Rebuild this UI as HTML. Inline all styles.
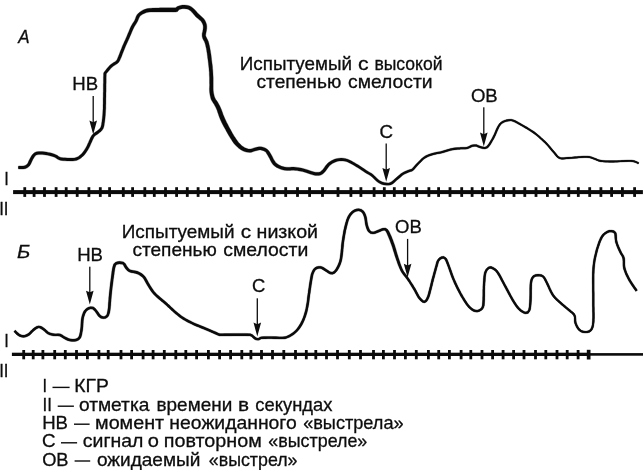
<!DOCTYPE html>
<html><head><meta charset="utf-8"><title>КГР</title>
<style>html,body{margin:0;padding:0;background:#fff;overflow:hidden}svg{display:block;filter:grayscale(1)}text{font-family:"Liberation Sans",sans-serif}</style>
</head><body>
<svg width="644" height="470" viewBox="0 0 644 470">
<rect width="644" height="470" fill="#fff"/>
<path d="M18.4,169.0 L19.6,169.0 L21.4,169.1 L23.5,169.0 L25.4,168.7 L27.8,167.6 L29.8,165.7 L30.8,164.1 L31.5,162.4 L32.3,160.7 L33.0,159.3 L34.1,157.5 L35.1,156.1 L36.3,155.1 L37.3,154.8 L38.8,154.6 L40.5,154.6 L42.2,154.6 L44.0,154.7 L45.9,155.0 L47.8,155.3 L49.5,155.7 L51.4,156.2 L53.1,156.7 L54.6,157.3 L55.9,158.1 L57.3,159.1 L59.2,160.0 L61.0,160.4 L63.0,160.7 L65.0,160.8 L67.0,160.9 L68.8,160.9 L70.7,161.0 L72.8,161.0 L74.7,160.8 L76.6,160.4 L78.6,159.6 L80.4,158.6 L82.0,157.3 L83.4,155.9 L84.6,154.7 L85.7,153.3 L86.7,151.8 L87.7,150.3 L88.7,148.6 L89.5,147.0 L90.3,145.3 L91.0,143.6 L91.8,141.9 L92.4,140.4 L93.0,139.2 L94.1,137.1 L95.2,135.8 L96.4,134.9 L97.9,134.0 L99.4,132.8 L100.8,131.7 L102.1,130.3 L103.3,128.4 L103.8,126.9 L104.2,125.3 L104.4,123.6 L104.7,121.9 L104.9,120.1 L105.1,118.6 L105.2,117.1 L105.4,115.5 L105.5,113.8 L105.6,112.0 L105.7,110.1 L105.8,108.6 L105.8,107.0 L105.8,105.4 L105.9,103.7 L105.9,102.0 L105.9,100.2 L105.9,98.5 L106.0,96.7 L106.0,95.0 L106.0,93.3 L106.1,91.5 L106.1,89.7 L106.1,87.9 L106.1,86.1 L106.1,84.4 L106.2,82.8 L106.2,81.3 L106.2,80.0 L106.2,77.5 L106.3,75.4 L106.3,74.0 L106.2,73.9 L106.4,73.7 L107.6,72.3 L109.1,70.5 L110.7,68.6 L112.0,67.3 L113.5,66.1 L115.1,65.1 L116.7,64.1 L118.2,62.9 L119.6,61.0 L120.7,58.6 L121.2,57.4 L121.8,55.9 L122.4,54.3 L123.0,52.7 L123.7,51.0 L124.4,49.3 L125.0,47.8 L125.7,46.1 L126.4,44.5 L127.2,42.8 L127.9,41.2 L128.7,39.6 L129.4,37.9 L130.1,36.2 L130.9,34.4 L131.6,32.7 L132.3,31.0 L133.0,29.4 L133.7,28.0 L134.6,26.3 L135.6,24.8 L136.5,23.3 L137.4,21.8 L138.3,19.7 L139.0,17.9 L139.8,16.5 L141.0,15.3 L142.6,14.2 L144.3,13.4 L145.5,12.9 L146.6,12.6 L148.0,12.3 L149.9,12.1 L151.3,12.0 L152.9,12.0 L154.6,12.0 L156.5,12.0 L158.4,12.0 L160.3,12.0 L162.1,12.0 L164.0,12.0 L165.9,12.0 L167.9,12.0 L169.9,12.0 L171.7,12.0 L173.3,12.1 L174.5,12.0 L175.9,12.0 L177.7,11.4 L178.6,10.3 L178.9,9.8 L180.4,9.2 L182.6,8.7 L184.3,8.7 L186.3,8.9 L188.0,9.2 L189.2,9.9 L190.4,10.8 L191.7,12.0 L192.6,13.0 L193.6,14.2 L194.7,15.5 L195.9,16.9 L197.3,18.1 L198.7,19.2 L199.9,20.2 L200.8,21.1 L201.8,22.5 L202.6,23.9 L203.0,25.2 L203.2,26.5 L203.2,27.9 L203.0,29.5 L202.7,31.4 L202.1,33.7 L202.1,36.2 L202.6,38.2 L203.4,39.9 L204.2,41.3 L204.8,42.8 L205.2,44.1 L205.6,45.5 L205.9,47.0 L206.3,48.6 L206.6,50.3 L206.8,51.8 L207.1,53.3 L207.3,54.9 L207.5,56.6 L207.7,58.3 L208.0,60.1 L208.2,61.8 L208.4,63.5 L208.6,65.3 L208.8,67.1 L209.0,68.9 L209.1,70.7 L209.3,72.5 L209.3,74.3 L209.4,76.2 L209.5,78.1 L209.5,80.0 L209.5,81.7 L209.5,83.4 L209.6,84.8 L209.5,87.2 L209.4,89.1 L209.5,91.2 L209.7,93.1 L210.0,95.1 L210.5,97.2 L211.0,99.2 L212.1,101.3 L213.2,103.0 L214.2,104.5 L215.0,106.0 L215.8,107.5 L216.7,109.5 L217.2,110.8 L217.7,112.4 L218.3,114.1 L218.9,115.9 L219.6,117.7 L220.3,119.5 L221.1,121.2 L221.9,123.0 L222.8,124.7 L223.7,126.4 L224.6,128.0 L225.5,129.6 L226.3,131.2 L227.2,132.7 L228.0,134.2 L228.9,135.7 L229.7,137.1 L230.6,138.4 L231.6,140.0 L232.5,141.4 L233.5,142.9 L234.6,144.2 L235.8,145.5 L237.4,147.1 L239.0,148.5 L240.8,149.7 L242.6,150.8 L244.4,151.5 L246.2,152.1 L248.0,152.3 L249.9,152.4 L251.7,152.2 L253.5,151.6 L255.0,151.1 L256.4,150.7 L258.1,150.3 L259.4,150.0 L260.7,150.0 L262.3,150.4 L263.9,150.9 L265.3,151.8 L266.1,152.6 L266.8,153.9 L267.7,155.3 L268.6,156.9 L269.4,158.3 L270.2,159.9 L271.0,161.6 L272.0,163.3 L273.1,164.8 L274.8,166.2 L276.5,167.4 L278.3,168.3 L280.0,169.0 L282.2,169.8 L284.3,170.2 L286.7,170.4 L288.4,170.5 L290.2,170.4 L291.9,170.3 L293.7,170.3 L295.4,170.4 L297.1,170.6 L298.8,170.9 L300.6,171.2 L302.3,171.6 L303.8,171.9 L305.5,172.4 L307.0,173.0 L308.5,173.5 L309.9,174.0 L311.7,174.6 L313.4,175.1 L315.2,175.4 L317.1,175.6 L319.0,175.5 L321.0,175.0 L322.7,174.1 L324.1,172.8 L325.3,171.4 L326.6,169.7 L327.8,167.9 L329.0,166.4 L330.0,165.3 L331.1,164.4 L332.4,163.6 L334.0,162.7 L335.8,161.9 L337.8,161.3 L339.4,161.1 L341.2,161.0 L343.0,161.0 L344.7,161.2 L346.1,161.5 L347.5,162.0 L348.9,162.7 L350.5,163.5 L351.9,164.2 L353.3,165.0 L354.9,165.9 L356.4,166.9 L357.9,167.8 L359.4,168.8 L360.9,169.8 L362.4,170.8 L363.9,171.8 L365.3,172.7 L367.0,173.7 L368.6,174.6 L370.1,175.5 L371.4,176.4 L372.6,177.5 L373.8,178.8 L375.1,180.1 L376.4,181.3 L378.1,182.6 L379.9,183.6 L381.8,184.4 L384.0,185.0 L386.4,185.3 L388.5,185.3 L390.7,185.0 L392.8,183.9 L394.0,182.9 L395.3,181.8 L396.6,180.6 L397.9,179.4 L399.4,178.2 L400.9,176.9 L402.4,175.6 L403.9,174.5 L405.5,173.7 L407.3,172.9 L409.0,172.2 L410.3,171.7 L411.7,171.4 L413.2,170.6 L414.3,169.4 L415.5,168.1 L416.8,166.5 L418.2,165.0 L419.5,163.6 L420.7,162.4 L421.9,161.2 L423.0,160.1 L424.2,159.1 L425.5,158.2 L426.8,157.4 L428.1,156.8 L429.5,156.2 L431.0,155.7 L432.6,155.2 L434.1,154.8 L435.7,154.4 L437.3,154.1 L439.1,153.8 L440.8,153.4 L442.6,153.0 L444.3,152.6 L446.0,152.0 L447.6,151.5 L449.3,151.0 L450.9,150.6 L452.4,150.2 L454.2,149.9 L456.0,149.7 L457.7,149.6 L459.4,149.5 L461.0,149.3 L463.2,149.3 L465.3,149.3 L467.3,149.0 L469.3,148.3 L471.0,147.4 L472.4,146.8 L474.4,146.4 L476.2,146.5 L478.1,147.4 L480.5,148.3 L482.5,148.8 L484.9,149.1 L487.4,148.2 L488.6,147.2 L489.5,146.0 L490.5,144.7 L491.4,143.2 L492.3,141.6 L493.2,140.0 L494.1,138.5 L494.8,137.0 L495.6,135.4 L496.3,133.7 L497.0,132.1 L497.7,130.4 L498.4,128.9 L499.1,127.6 L499.6,126.5 L501.0,124.6 L502.1,123.6 L503.5,122.8 L505.1,122.0 L506.9,121.6 L508.7,121.3 L510.2,121.1 L511.4,121.1 L513.1,121.6 L514.2,122.1 L515.6,122.8 L517.1,123.6 L518.7,124.5 L520.2,125.3 L521.6,126.1 L523.2,127.0 L524.7,127.9 L526.2,128.8 L527.6,129.6 L529.0,130.5 L530.6,131.5 L532.0,132.4 L533.4,133.4 L535.2,134.7 L536.3,135.6 L537.5,136.6 L538.8,137.7 L540.1,138.9 L541.4,140.1 L542.7,141.3 L544.0,142.4 L545.1,143.6 L546.3,144.8 L547.5,146.1 L548.6,147.4 L549.6,148.7 L550.7,150.0 L551.7,151.2 L552.7,152.3 L554.0,153.8 L555.1,155.3 L556.3,156.7 L557.7,157.9 L559.2,158.8 L560.9,159.3 L562.5,159.4 L564.1,159.3 L566.1,159.1 L568.5,158.9 L569.8,158.8 L571.4,158.7 L573.1,158.6 L575.0,158.4 L576.9,158.2 L578.8,158.1 L580.7,157.9 L582.5,157.8 L584.2,157.7 L585.7,157.7 L586.9,157.7 L589.4,157.9 L591.1,158.4 L592.6,159.0 L594.2,159.6 L595.7,160.2 L597.1,160.8 L598.7,161.4 L600.9,161.9 L602.4,162.0 L604.0,162.2 L605.7,162.3 L607.6,162.3 L609.5,162.4 L611.6,162.4 L613.7,162.4 L615.2,162.3 L616.8,162.3 L618.5,162.2 L620.3,162.1 L622.1,162.0 L623.9,161.9 L625.6,161.8 L627.3,161.7 L628.9,161.7 L630.2,161.7 L631.4,161.8 L633.9,162.2 L635.8,162.8 L637.2,163.6 L638.2,164.1 L639.0,162.5 L637.9,162.0 L636.4,161.3 L634.3,160.5 L631.6,160.0 L630.3,160.0 L628.8,160.0 L627.3,160.0 L625.6,160.1 L623.8,160.2 L622.0,160.3 L620.2,160.4 L618.4,160.5 L616.7,160.6 L615.1,160.6 L613.7,160.6 L611.6,160.6 L609.5,160.6 L607.6,160.6 L605.8,160.5 L604.1,160.4 L602.5,160.3 L601.1,160.1 L599.2,159.7 L597.8,159.2 L596.4,158.6 L594.8,158.0 L593.3,157.4 L591.7,156.7 L589.7,156.2 L587.1,155.9 L585.7,155.9 L584.1,155.9 L582.4,156.0 L580.6,156.2 L578.7,156.3 L576.7,156.5 L574.8,156.6 L573.0,156.8 L571.3,156.9 L569.7,157.0 L568.3,157.1 L565.9,157.3 L564.0,157.5 L562.5,157.6 L561.2,157.5 L560.0,157.2 L558.8,156.5 L557.7,155.4 L556.6,154.1 L555.4,152.6 L554.1,151.1 L553.1,150.0 L552.1,148.8 L551.1,147.5 L550.0,146.2 L548.9,144.9 L547.7,143.6 L546.5,142.2 L545.3,141.1 L544.0,139.9 L542.7,138.7 L541.3,137.5 L540.0,136.3 L538.7,135.2 L537.5,134.2 L536.4,133.3 L534.6,131.8 L533.0,130.8 L531.6,129.9 L530.0,128.9 L528.6,128.0 L527.2,127.1 L525.7,126.3 L524.2,125.4 L522.6,124.5 L521.2,123.7 L519.6,122.8 L518.1,121.9 L516.5,121.1 L515.0,120.3 L513.7,119.8 L511.7,119.2 L510.1,119.2 L508.5,119.3 L506.5,119.6 L504.5,120.2 L502.5,121.0 L501.0,122.0 L499.5,123.3 L498.0,125.5 L497.3,126.7 L496.6,128.1 L495.9,129.6 L495.2,131.3 L494.5,133.0 L493.8,134.6 L493.0,136.1 L492.3,137.5 L491.5,139.1 L490.6,140.6 L489.7,142.1 L488.8,143.5 L487.9,144.8 L487.0,145.8 L486.4,146.4 L484.7,147.0 L482.9,146.7 L481.1,146.3 L478.9,145.4 L476.6,144.5 L474.2,144.4 L471.8,144.8 L470.1,145.5 L468.5,146.4 L466.9,147.0 L465.2,147.2 L463.2,147.2 L460.8,147.3 L459.3,147.4 L457.6,147.5 L455.8,147.6 L453.9,147.8 L452.0,148.2 L450.4,148.5 L448.7,149.0 L447.0,149.5 L445.3,150.0 L443.7,150.5 L442.0,151.0 L440.4,151.4 L438.7,151.7 L436.9,152.1 L435.2,152.4 L433.6,152.8 L432.0,153.2 L430.3,153.7 L428.7,154.3 L427.2,154.9 L425.8,155.6 L424.3,156.4 L422.9,157.4 L421.6,158.5 L420.4,159.7 L419.2,160.9 L417.9,162.2 L416.6,163.6 L415.2,165.1 L413.9,166.6 L412.7,168.0 L411.8,168.8 L411.0,169.2 L409.7,169.5 L408.2,170.0 L406.4,170.7 L404.5,171.5 L402.7,172.5 L401.0,173.6 L399.3,175.0 L397.7,176.3 L396.3,177.6 L394.9,178.8 L393.6,180.0 L392.4,181.0 L391.4,181.7 L389.9,182.6 L388.3,182.9 L386.6,182.8 L384.5,182.5 L382.6,182.0 L381.0,181.3 L379.5,180.4 L378.0,179.3 L376.9,178.3 L375.7,177.0 L374.4,175.7 L373.0,174.4 L371.5,173.3 L369.9,172.4 L368.3,171.5 L366.7,170.5 L365.3,169.6 L363.9,168.6 L362.3,167.6 L360.8,166.6 L359.3,165.6 L357.8,164.6 L356.2,163.7 L354.7,162.7 L353.2,161.9 L351.7,161.1 L350.1,160.3 L348.5,159.5 L346.9,158.9 L345.1,158.4 L343.2,158.2 L341.2,158.1 L339.1,158.2 L337.2,158.5 L334.9,159.1 L332.7,160.0 L330.8,161.0 L329.3,162.0 L327.9,163.1 L326.6,164.4 L325.3,166.1 L324.0,167.9 L322.9,169.4 L321.8,170.5 L320.8,171.4 L319.8,172.0 L318.6,172.2 L317.1,172.3 L315.6,172.2 L314.1,171.9 L312.6,171.5 L310.9,171.0 L309.5,170.5 L308.1,170.0 L306.4,169.4 L304.6,168.9 L303.0,168.5 L301.2,168.1 L299.4,167.7 L297.5,167.4 L295.6,167.2 L293.7,167.1 L291.9,167.1 L290.0,167.2 L288.4,167.3 L286.9,167.2 L284.8,167.0 L283.0,166.6 L281.2,166.0 L279.7,165.3 L278.3,164.5 L276.9,163.5 L275.7,162.4 L274.9,161.3 L274.0,159.9 L273.2,158.4 L272.4,156.7 L271.6,155.3 L270.6,153.6 L269.7,152.1 L268.6,150.6 L267.3,149.2 L265.3,148.0 L263.2,147.2 L261.1,146.8 L259.1,146.7 L257.4,147.1 L255.6,147.5 L254.0,147.9 L252.5,148.4 L251.0,148.9 L249.7,149.0 L248.4,148.9 L247.1,148.6 L245.7,148.1 L244.4,147.4 L243.0,146.5 L241.6,145.4 L240.2,144.1 L238.8,142.7 L237.9,141.5 L237.0,140.3 L236.1,139.1 L235.2,137.6 L234.2,136.2 L233.4,134.8 L232.6,133.5 L231.8,132.1 L231.0,130.6 L230.2,129.1 L229.3,127.6 L228.5,126.0 L227.7,124.3 L226.8,122.7 L226.0,121.0 L225.2,119.3 L224.5,117.7 L223.8,116.1 L223.1,114.4 L222.5,112.6 L221.9,110.9 L221.3,109.3 L220.7,107.9 L219.7,105.7 L218.7,104.0 L217.8,102.3 L216.6,100.6 L215.6,99.2 L214.8,97.6 L214.3,96.2 L213.9,94.4 L213.5,92.5 L213.3,90.8 L213.2,89.1 L213.2,87.3 L213.2,84.8 L213.2,83.3 L213.2,81.7 L213.2,79.9 L213.2,78.0 L213.1,76.1 L213.0,74.1 L212.9,72.3 L212.8,70.4 L212.6,68.6 L212.5,66.7 L212.3,64.9 L212.0,63.1 L211.8,61.3 L211.6,59.7 L211.4,57.8 L211.2,56.1 L211.0,54.4 L210.7,52.8 L210.5,51.2 L210.2,49.7 L209.9,47.9 L209.6,46.3 L209.2,44.7 L208.8,43.1 L208.4,41.6 L207.6,39.7 L206.7,38.1 L206.1,36.8 L205.7,35.8 L205.8,34.1 L206.2,32.1 L206.6,30.1 L206.8,28.2 L206.8,26.3 L206.6,24.4 L205.9,22.4 L205.0,20.5 L203.8,18.7 L202.5,17.4 L201.1,16.2 L199.8,15.1 L198.7,14.1 L197.6,13.0 L196.6,11.7 L195.5,10.4 L194.3,9.2 L192.8,7.9 L191.2,6.7 L189.2,5.8 L186.9,5.2 L184.5,5.1 L182.2,5.1 L179.4,5.7 L177.1,6.6 L175.7,7.7 L175.5,8.0 L175.6,7.8 L174.5,7.8 L173.3,7.8 L171.7,7.8 L169.9,7.8 L168.0,7.8 L165.9,7.8 L164.0,7.8 L162.1,7.8 L160.3,7.8 L158.4,7.9 L156.4,7.9 L154.5,8.0 L152.7,8.1 L151.0,8.2 L149.5,8.3 L147.4,8.6 L145.7,9.0 L144.2,9.6 L142.7,10.2 L140.7,11.4 L138.9,12.8 L137.2,14.5 L136.1,16.5 L135.4,18.5 L134.6,20.4 L133.8,21.7 L132.9,23.1 L131.9,24.7 L130.9,26.6 L130.2,28.1 L129.5,29.7 L128.8,31.5 L128.0,33.2 L127.3,35.0 L126.6,36.7 L125.9,38.3 L125.2,39.9 L124.4,41.6 L123.7,43.2 L122.9,44.9 L122.2,46.6 L121.6,48.2 L120.9,49.9 L120.2,51.6 L119.6,53.3 L119.0,54.8 L118.4,56.2 L117.9,57.4 L117.1,59.5 L116.0,60.9 L115.0,61.7 L113.5,62.6 L111.8,63.7 L110.0,65.1 L108.5,66.7 L106.9,68.6 L105.4,70.5 L104.2,72.0 L103.6,72.9 L103.5,73.9 L103.5,75.4 L103.4,77.5 L103.4,80.0 L103.4,81.3 L103.4,82.8 L103.3,84.4 L103.3,86.1 L103.3,87.9 L103.3,89.7 L103.3,91.5 L103.2,93.3 L103.2,95.0 L103.2,96.7 L103.1,98.4 L103.1,100.2 L103.1,101.9 L103.1,103.7 L103.0,105.3 L103.0,107.0 L103.0,108.5 L102.9,109.9 L102.8,111.9 L102.7,113.7 L102.6,115.3 L102.4,116.8 L102.3,118.3 L102.1,119.7 L101.9,121.5 L101.6,123.2 L101.4,124.8 L101.1,126.1 L100.7,127.2 L99.9,128.5 L98.8,129.5 L97.6,130.6 L96.2,131.6 L94.7,132.6 L93.2,133.8 L91.7,135.5 L90.4,137.8 L89.8,139.2 L89.1,140.7 L88.4,142.4 L87.6,144.1 L86.9,145.8 L86.1,147.2 L85.2,148.7 L84.3,150.2 L83.3,151.6 L82.4,152.8 L81.4,153.9 L80.0,155.1 L78.7,156.2 L77.3,157.0 L75.8,157.6 L74.3,157.9 L72.6,158.0 L70.8,158.0 L68.9,158.0 L67.2,157.9 L65.1,157.8 L63.3,157.7 L61.6,157.5 L60.2,157.2 L58.8,156.5 L57.6,155.6 L56.0,154.7 L54.1,153.9 L52.2,153.3 L50.1,152.7 L48.3,152.4 L46.4,152.0 L44.3,151.7 L42.4,151.6 L40.5,151.5 L38.6,151.6 L36.6,151.8 L34.7,152.5 L32.9,154.0 L31.5,155.8 L30.4,157.7 L29.5,159.4 L28.7,161.1 L28.0,162.7 L27.4,163.7 L26.1,165.0 L24.4,165.7 L23.2,165.9 L21.4,166.0 L19.6,165.9 L18.4,166.0Z" fill="#0b0b0b" fill-rule="nonzero" stroke="#0b0b0b" stroke-width="0.3" stroke-linejoin="round"/><path d="M18.4,167.5 L19.6,167.5 L21.4,167.5 L23.3,167.4 L24.9,167.2 L27.0,166.3 L28.6,164.7 L29.4,163.4 L30.1,161.7 L30.9,160.0 L31.7,158.5 L32.8,156.7 L34.0,155.0 L35.5,153.8 L37.0,153.3 L38.7,153.1 L40.5,153.1 L42.3,153.1 L44.2,153.2 L46.1,153.5 L48.0,153.8 L49.8,154.2 L51.8,154.7 L53.6,155.3 L55.3,156.0 L56.7,156.9 L58.1,157.8 L59.7,158.6 L61.3,159.0 L63.1,159.2 L65.1,159.3 L67.1,159.4 L68.9,159.5 L70.8,159.5 L72.7,159.5 L74.5,159.3 L76.2,159.0 L78.0,158.3 L79.6,157.4 L81.0,156.2 L82.4,154.9 L83.5,153.7 L84.5,152.4 L85.5,151.0 L86.5,149.5 L87.4,147.9 L88.2,146.4 L89.0,144.7 L89.7,143.0 L90.4,141.3 L91.1,139.8 L91.7,138.5 L92.9,136.3 L94.2,134.8 L95.5,133.8 L97.1,132.8 L98.5,131.7 L99.8,130.6 L101.0,129.4 L102.0,127.8 L102.4,126.5 L102.8,125.0 L103.0,123.4 L103.3,121.7 L103.5,119.9 L103.7,118.4 L103.8,116.9 L104.0,115.4 L104.1,113.8 L104.2,112.0 L104.3,110.0 L104.4,108.6 L104.4,107.0 L104.4,105.4 L104.5,103.7 L104.5,101.9 L104.5,100.2 L104.5,98.4 L104.6,96.7 L104.6,95.0 L104.6,93.3 L104.7,91.5 L104.7,89.7 L104.7,87.9 L104.7,86.1 L104.7,84.4 L104.8,82.8 L104.8,81.3 L104.8,80.0 L104.8,77.5 L104.9,75.4 L104.9,73.9 L104.9,73.4 L105.3,72.8 L106.5,71.4 L108.0,69.6 L109.6,67.7 L111.0,66.2 L112.6,64.9 L114.3,63.8 L115.8,62.9 L117.1,61.9 L118.4,60.3 L119.3,58.0 L119.8,56.8 L120.4,55.4 L121.0,53.8 L121.6,52.1 L122.3,50.4 L123.0,48.8 L123.6,47.2 L124.3,45.5 L125.1,43.8 L125.8,42.2 L126.5,40.6 L127.3,38.9 L128.0,37.3 L128.7,35.6 L129.5,33.8 L130.2,32.1 L130.9,30.4 L131.6,28.7 L132.3,27.3 L133.3,25.5 L134.3,23.9 L135.2,22.5 L136.0,21.1 L136.8,19.1 L137.5,17.2 L138.5,15.5 L139.9,14.0 L141.7,12.8 L143.5,11.8 L144.8,11.2 L146.1,10.8 L147.7,10.5 L149.7,10.2 L151.1,10.1 L152.8,10.0 L154.6,10.0 L156.5,9.9 L158.4,9.9 L160.3,9.9 L162.1,9.9 L164.0,9.9 L165.9,9.9 L168.0,9.9 L169.9,9.9 L171.7,9.9 L173.3,9.9 L174.5,9.9 L175.8,9.9 L176.6,9.7 L177.2,9.0 L178.0,8.2 L179.9,7.4 L182.4,6.9 L184.4,6.9 L186.6,7.0 L188.6,7.5 L190.2,8.3 L191.6,9.3 L193.0,10.6 L194.1,11.7 L195.1,13.0 L196.2,14.3 L197.3,15.5 L198.6,16.6 L199.9,17.7 L201.2,18.8 L202.3,19.9 L203.4,21.5 L204.2,23.1 L204.8,24.8 L205.0,26.4 L205.0,28.0 L204.8,29.8 L204.4,31.8 L204.0,33.9 L203.9,36.0 L204.3,37.5 L205.1,39.0 L205.9,40.5 L206.6,42.2 L207.0,43.6 L207.4,45.1 L207.8,46.7 L208.1,48.3 L208.4,50.0 L208.7,51.5 L208.9,53.0 L209.1,54.7 L209.4,56.3 L209.6,58.1 L209.8,59.9 L210.0,61.6 L210.2,63.3 L210.4,65.1 L210.6,66.9 L210.8,68.8 L211.0,70.6 L211.1,72.4 L211.2,74.2 L211.3,76.1 L211.3,78.0 L211.3,79.9 L211.4,81.7 L211.4,83.4 L211.4,84.8 L211.4,87.3 L211.3,89.1 L211.4,91.0 L211.6,92.8 L212.0,94.8 L212.4,96.7 L212.9,98.4 L213.8,100.2 L214.9,101.8 L216.0,103.4 L216.9,105.0 L217.7,106.6 L218.7,108.7 L219.2,110.1 L219.8,111.7 L220.4,113.4 L221.0,115.1 L221.7,116.9 L222.4,118.6 L223.2,120.3 L224.0,122.0 L224.8,123.7 L225.7,125.4 L226.6,127.0 L227.4,128.6 L228.2,130.1 L229.1,131.7 L229.9,133.2 L230.7,134.6 L231.6,136.0 L232.4,137.3 L233.4,138.8 L234.3,140.2 L235.3,141.6 L236.2,142.9 L237.3,144.1 L238.8,145.6 L240.3,146.9 L241.9,148.1 L243.5,149.1 L245.1,149.8 L246.7,150.3 L248.2,150.6 L249.8,150.7 L251.4,150.5 L253.0,150.0 L254.5,149.5 L256.0,149.1 L257.7,148.7 L259.3,148.4 L260.9,148.4 L262.7,148.8 L264.6,149.4 L266.3,150.5 L267.4,151.6 L268.3,153.0 L269.2,154.5 L270.1,156.1 L270.9,157.5 L271.7,159.1 L272.5,160.8 L273.4,162.3 L274.4,163.6 L275.8,164.9 L277.4,165.9 L279.0,166.8 L280.6,167.5 L282.6,168.2 L284.5,168.6 L286.8,168.8 L288.4,168.9 L290.1,168.8 L291.9,168.7 L293.7,168.7 L295.5,168.8 L297.3,169.0 L299.1,169.3 L300.9,169.6 L302.6,170.0 L304.2,170.4 L306.0,170.9 L307.5,171.5 L309.0,172.0 L310.4,172.5 L312.2,173.1 L313.8,173.5 L315.4,173.8 L317.1,173.9 L318.8,173.9 L320.4,173.5 L321.7,172.7 L322.9,171.7 L324.1,170.4 L325.3,168.8 L326.6,167.0 L327.8,165.4 L329.0,164.2 L330.2,163.2 L331.6,162.3 L333.4,161.4 L335.3,160.5 L337.5,159.9 L339.3,159.7 L341.2,159.5 L343.1,159.6 L344.9,159.8 L346.5,160.2 L348.0,160.8 L349.5,161.5 L351.1,162.3 L352.5,163.1 L354.0,163.9 L355.5,164.8 L357.1,165.8 L358.6,166.7 L360.1,167.7 L361.6,168.7 L363.1,169.7 L364.6,170.7 L366.0,171.6 L367.7,172.6 L369.2,173.5 L370.8,174.4 L372.2,175.4 L373.5,176.6 L374.8,177.9 L376.0,179.2 L377.2,180.3 L378.8,181.5 L380.4,182.5 L382.2,183.2 L384.3,183.7 L386.5,184.0 L388.4,184.1 L390.3,183.8 L392.1,182.8 L393.2,182.0 L394.4,180.9 L395.7,179.7 L397.1,178.5 L398.6,177.2 L400.1,175.9 L401.7,174.6 L403.3,173.5 L405.0,172.6 L406.9,171.8 L408.6,171.1 L410.0,170.6 L411.3,170.3 L412.5,169.7 L413.5,168.7 L414.7,167.3 L416.0,165.8 L417.4,164.3 L418.7,162.9 L419.9,161.7 L421.1,160.5 L422.3,159.3 L423.6,158.2 L424.9,157.3 L426.3,156.5 L427.6,155.8 L429.1,155.3 L430.6,154.7 L432.3,154.2 L433.8,153.8 L435.4,153.4 L437.1,153.1 L438.9,152.7 L440.6,152.4 L442.3,152.0 L444.0,151.5 L445.7,151.0 L447.3,150.5 L449.0,150.0 L450.6,149.6 L452.2,149.2 L454.1,148.9 L455.9,148.7 L457.7,148.5 L459.3,148.4 L460.9,148.3 L463.2,148.2 L465.2,148.2 L467.1,148.0 L468.9,147.3 L470.5,146.5 L472.1,145.8 L474.3,145.4 L476.4,145.5 L478.5,146.4 L480.8,147.3 L482.7,147.8 L484.8,148.1 L486.9,147.3 L487.8,146.5 L488.7,145.4 L489.6,144.1 L490.5,142.7 L491.4,141.1 L492.3,139.6 L493.2,138.0 L493.9,136.6 L494.7,135.0 L495.4,133.4 L496.1,131.7 L496.8,130.0 L497.5,128.5 L498.2,127.1 L498.8,126.0 L500.2,124.0 L501.5,122.8 L503.0,121.9 L504.8,121.1 L506.7,120.6 L508.6,120.3 L510.1,120.1 L511.5,120.2 L513.4,120.7 L514.6,121.2 L516.1,121.9 L517.6,122.8 L519.2,123.6 L520.7,124.5 L522.1,125.3 L523.7,126.2 L525.2,127.1 L526.7,128.0 L528.1,128.8 L529.5,129.7 L531.1,130.7 L532.5,131.6 L534.0,132.6 L535.8,134.0 L536.9,134.9 L538.1,135.9 L539.4,137.0 L540.7,138.2 L542.1,139.4 L543.4,140.6 L544.6,141.8 L545.8,142.9 L547.0,144.2 L548.2,145.5 L549.3,146.8 L550.4,148.1 L551.4,149.4 L552.4,150.6 L553.4,151.7 L554.7,153.2 L555.9,154.7 L557.0,156.1 L558.2,157.2 L559.6,158.0 L561.0,158.4 L562.5,158.5 L564.0,158.4 L566.0,158.2 L568.4,158.0 L569.8,157.9 L571.3,157.8 L573.1,157.7 L574.9,157.5 L576.8,157.4 L578.7,157.2 L580.6,157.1 L582.5,156.9 L584.2,156.8 L585.7,156.8 L587.0,156.8 L589.6,157.1 L591.4,157.6 L592.9,158.2 L594.5,158.8 L596.0,159.4 L597.4,160.0 L599.0,160.6 L601.0,161.0 L602.4,161.2 L604.0,161.3 L605.7,161.4 L607.6,161.5 L609.5,161.5 L611.6,161.5 L613.7,161.5 L615.2,161.5 L616.8,161.4 L618.5,161.3 L620.2,161.2 L622.0,161.1 L623.8,161.0 L625.6,160.9 L627.3,160.9 L628.8,160.8 L630.3,160.8 L631.5,160.9 L634.1,161.3 L636.1,162.1 L637.6,162.8 L638.6,163.3" fill="none" stroke="#0b0b0b" stroke-width="1.5" stroke-linejoin="round" stroke-linecap="butt"/><path d="M13.7,331.7 L14.8,332.8 L16.3,334.4 L18.0,335.8 L19.7,336.7 L21.5,337.3 L23.4,337.5 L25.4,337.2 L27.4,336.5 L29.4,335.4 L30.8,334.2 L32.2,332.8 L33.5,331.5 L34.7,330.4 L36.2,329.3 L37.6,328.5 L38.7,328.1 L39.8,328.3 L41.1,329.0 L42.6,329.9 L44.0,331.1 L45.5,332.6 L47.4,334.1 L49.4,335.0 L51.5,335.6 L53.7,336.0 L55.9,336.1 L57.9,336.0 L59.6,336.2 L61.0,336.9 L62.6,337.9 L64.3,339.0 L66.0,339.9 L67.7,340.7 L69.7,341.2 L71.9,341.5 L74.3,341.5 L76.4,341.2 L79.0,340.1 L80.9,337.9 L81.5,336.2 L82.0,334.5 L82.3,332.6 L82.7,330.6 L82.9,328.7 L83.1,327.0 L83.2,325.2 L83.3,323.5 L83.4,321.8 L83.5,320.2 L83.7,318.8 L84.1,316.9 L84.7,315.2 L85.2,313.7 L85.9,312.5 L86.8,311.1 L87.9,310.2 L89.0,309.6 L90.8,309.0 L92.5,309.2 L93.4,309.9 L94.5,311.1 L95.6,312.5 L96.6,314.0 L97.6,315.6 L98.9,317.1 L101.0,318.4 L103.4,318.8 L105.8,318.5 L108.0,317.0 L108.9,315.6 L109.4,314.1 L109.9,312.4 L110.3,310.1 L110.5,308.7 L110.6,307.0 L110.8,305.2 L110.9,303.3 L111.1,301.4 L111.2,299.5 L111.4,297.8 L111.5,296.1 L111.7,294.1 L111.9,292.1 L112.1,290.3 L112.3,288.5 L112.5,286.8 L112.7,285.2 L113.0,283.1 L113.2,281.3 L113.4,279.6 L113.7,277.6 L113.9,276.0 L114.2,274.2 L114.4,272.4 L114.7,270.6 L114.9,269.0 L115.2,267.7 L115.9,265.5 L116.8,264.6 L117.9,264.3 L119.6,264.1 L121.3,264.2 L122.4,264.3 L123.2,265.1 L124.0,266.5 L125.0,268.2 L126.1,269.6 L127.4,270.9 L129.2,272.1 L131.1,272.7 L133.2,273.0 L135.1,273.4 L136.8,273.9 L138.4,274.6 L139.8,275.4 L141.2,276.4 L142.5,277.6 L143.5,278.8 L144.4,280.3 L145.3,282.0 L146.3,283.8 L147.3,285.5 L148.3,287.1 L149.3,288.7 L150.3,290.2 L151.3,291.7 L152.4,293.1 L153.6,294.6 L154.9,295.8 L156.1,296.9 L157.5,298.2 L158.7,299.2 L160.0,300.2 L161.3,301.4 L162.7,302.4 L163.9,303.5 L165.0,304.4 L166.5,305.8 L167.7,306.9 L169.1,308.3 L170.2,309.3 L171.4,310.4 L172.7,311.6 L174.0,312.8 L175.4,314.0 L176.8,315.1 L178.2,316.2 L179.7,317.4 L181.3,318.5 L183.0,319.7 L184.6,320.6 L186.2,321.5 L187.9,322.4 L189.7,323.3 L191.4,324.1 L193.1,324.9 L194.8,325.7 L196.5,326.4 L198.2,327.1 L199.8,327.8 L201.5,328.4 L203.0,329.1 L204.8,329.8 L206.6,330.6 L208.4,331.3 L210.1,332.0 L211.7,332.7 L213.5,333.5 L215.5,334.4 L217.3,335.2 L218.7,335.7 L219.3,336.0 L219.9,336.0 L220.6,336.0 L221.6,336.0 L222.9,336.0 L224.5,336.0 L226.3,336.0 L228.3,336.0 L230.5,336.0 L232.8,335.9 L235.1,335.9 L237.4,335.9 L239.7,335.9 L241.9,335.9 L243.9,335.9 L245.8,335.9 L247.5,336.0 L248.9,336.0 L249.7,336.0 L251.3,336.6 L252.3,337.5 L253.6,338.7 L255.1,339.8 L257.0,340.3 L259.0,340.3 L260.3,339.6 L261.4,339.1 L262.5,339.0 L264.0,338.9 L265.8,338.9 L267.7,338.8 L269.8,338.8 L271.4,338.8 L273.3,338.9 L275.2,339.0 L277.2,339.0 L279.1,339.1 L280.9,339.1 L282.3,339.1 L284.5,339.0 L286.0,338.7 L287.6,338.1 L289.2,337.4 L290.9,336.6 L292.6,335.6 L294.1,334.5 L295.5,333.3 L296.9,332.1 L298.1,330.7 L299.4,329.2 L300.3,327.9 L301.3,326.4 L302.2,324.9 L303.1,323.3 L303.9,321.6 L304.6,319.9 L305.3,318.1 L306.0,316.3 L306.5,314.5 L307.1,312.7 L307.5,310.9 L307.9,309.1 L308.3,307.3 L308.6,305.6 L308.9,303.9 L309.2,302.0 L309.4,300.2 L309.6,298.4 L309.9,296.2 L310.1,294.6 L310.4,292.9 L310.6,291.0 L310.9,289.1 L311.2,287.2 L311.4,285.4 L311.7,283.7 L312.0,281.8 L312.3,280.0 L312.6,278.3 L312.9,276.7 L313.2,275.2 L313.5,274.0 L314.4,272.0 L315.2,270.6 L316.2,269.6 L317.5,268.9 L318.9,268.6 L320.3,268.6 L321.6,269.0 L323.1,269.9 L324.7,270.9 L326.4,272.0 L328.2,273.3 L330.1,274.2 L332.5,274.4 L334.8,273.4 L336.3,272.0 L337.7,270.2 L339.0,268.0 L339.7,266.6 L340.4,265.1 L341.0,263.4 L341.6,261.4 L342.2,258.9 L342.4,257.6 L342.6,256.1 L342.8,254.6 L343.0,252.9 L343.2,251.2 L343.3,249.4 L343.5,247.6 L343.7,245.9 L343.8,244.2 L344.0,242.6 L344.2,241.2 L344.5,239.3 L344.8,237.4 L345.1,235.6 L345.4,233.9 L345.7,232.2 L346.0,230.6 L346.4,229.1 L346.7,227.6 L347.2,225.7 L347.6,223.9 L348.1,222.2 L348.6,220.6 L349.1,219.2 L349.7,218.0 L350.6,216.3 L351.6,214.9 L352.6,213.7 L353.7,212.8 L355.3,211.8 L357.1,211.2 L358.5,211.0 L360.4,211.4 L362.0,212.7 L362.8,213.9 L363.6,215.7 L364.2,217.7 L364.5,219.4 L364.8,221.2 L365.0,223.2 L365.4,225.1 L365.9,226.9 L366.5,228.7 L367.2,230.4 L368.2,231.9 L370.3,233.6 L372.9,234.1 L375.0,233.8 L377.0,233.0 L378.9,232.3 L380.7,231.5 L382.3,230.8 L383.6,230.4 L384.7,230.4 L385.6,231.1 L386.1,231.9 L386.7,233.1 L387.4,234.7 L388.2,236.6 L388.8,238.0 L389.4,239.5 L390.1,241.2 L390.7,242.9 L391.4,244.7 L392.0,246.5 L392.5,248.1 L393.0,249.7 L393.5,251.4 L394.1,253.1 L394.6,254.9 L395.2,256.7 L395.8,258.4 L396.3,260.0 L396.9,261.6 L397.4,263.2 L398.0,264.8 L398.7,266.5 L399.3,268.0 L400.0,269.5 L400.7,271.0 L401.7,272.7 L402.8,274.3 L403.9,275.7 L405.0,277.0 L406.1,278.4 L407.2,279.9 L408.0,281.2 L409.0,282.6 L409.9,284.1 L410.8,285.5 L411.7,287.0 L412.6,288.4 L413.4,289.8 L414.3,291.3 L415.1,292.9 L416.0,294.5 L416.8,296.0 L417.6,297.5 L418.5,298.7 L420.3,300.8 L422.3,302.4 L424.5,302.9 L426.5,302.0 L428.0,300.0 L429.3,297.2 L429.7,296.0 L430.1,294.7 L430.5,293.2 L430.9,291.6 L431.4,289.8 L431.8,288.1 L432.3,286.3 L432.7,284.5 L433.1,282.7 L433.6,281.1 L433.9,279.6 L434.3,278.2 L434.9,276.1 L435.4,274.1 L435.9,272.3 L436.4,270.6 L436.8,269.0 L437.2,267.6 L437.6,266.3 L438.2,263.9 L438.6,262.4 L439.1,261.2 L440.6,259.6 L442.1,258.7 L443.3,258.5 L444.7,259.4 L445.1,260.2 L445.7,261.4 L446.3,262.9 L447.0,264.7 L447.8,266.8 L448.2,268.1 L448.7,269.4 L449.2,270.9 L449.8,272.4 L450.3,274.0 L450.9,275.7 L451.5,277.3 L452.2,279.0 L452.9,280.6 L453.5,282.1 L454.2,283.7 L455.0,285.2 L455.7,286.8 L456.5,288.4 L457.3,290.0 L458.1,291.5 L458.9,293.0 L459.7,294.5 L460.4,295.9 L461.4,297.5 L462.4,299.1 L463.3,300.7 L464.3,302.2 L465.3,303.7 L466.2,305.0 L467.2,306.2 L468.1,307.4 L469.9,309.1 L471.6,310.4 L473.3,311.4 L475.0,312.0 L477.1,312.2 L479.2,311.7 L480.9,310.8 L482.4,309.8 L483.6,308.1 L484.4,305.7 L484.5,304.4 L484.6,302.9 L484.7,301.3 L484.8,299.6 L484.8,297.8 L484.9,295.9 L484.9,293.9 L484.9,292.0 L484.9,290.2 L485.0,288.4 L485.0,286.8 L485.1,285.4 L485.2,283.1 L485.4,281.0 L485.5,279.1 L485.6,277.3 L485.8,275.7 L486.1,274.2 L486.3,273.1 L487.3,270.8 L488.4,269.5 L489.4,268.7 L490.7,268.4 L492.3,269.2 L493.3,269.8 L494.4,270.5 L495.6,271.6 L496.9,273.3 L497.6,274.4 L498.4,275.7 L499.2,277.1 L500.0,278.7 L500.9,280.4 L501.8,282.1 L502.7,283.8 L503.6,285.4 L504.4,287.0 L505.3,288.6 L506.1,290.2 L507.0,291.8 L507.8,293.4 L508.7,295.0 L509.5,296.6 L510.4,298.1 L511.2,299.5 L512.0,300.9 L513.1,302.7 L514.2,304.4 L515.2,305.9 L516.3,307.4 L517.3,308.7 L518.5,309.9 L520.2,311.4 L522.0,312.6 L523.7,313.5 L525.5,314.0 L528.3,313.4 L530.1,310.9 L530.6,309.5 L530.9,308.0 L531.1,306.4 L531.3,304.6 L531.4,302.6 L531.6,300.4 L531.6,299.0 L531.7,297.4 L531.7,295.7 L531.7,294.0 L531.7,292.2 L531.7,290.4 L531.8,288.6 L531.8,286.9 L531.9,285.4 L531.9,284.0 L532.1,282.9 L532.4,280.7 L533.0,279.2 L533.6,278.1 L534.1,277.4 L535.9,276.4 L538.0,276.3 L539.6,276.3 L541.1,276.6 L542.5,277.3 L543.2,278.2 L544.0,279.4 L544.8,281.1 L545.9,283.2 L546.5,284.4 L547.2,285.9 L547.9,287.6 L548.7,289.3 L549.5,291.0 L550.4,292.8 L551.3,294.4 L552.2,295.9 L553.4,297.4 L554.7,298.9 L556.0,300.2 L557.4,301.5 L558.7,302.7 L560.0,303.8 L561.2,304.9 L562.6,306.1 L563.9,307.2 L565.2,308.3 L566.5,309.3 L567.6,310.3 L568.7,311.2 L570.3,312.5 L571.7,313.6 L572.8,314.7 L573.6,315.8 L574.0,317.3 L574.1,319.1 L574.1,321.2 L574.5,323.3 L575.3,325.3 L576.2,327.2 L577.3,329.0 L578.6,330.6 L580.6,332.0 L582.8,332.8 L585.0,333.1 L587.2,333.0 L589.5,332.4 L591.5,330.9 L592.4,329.7 L593.1,328.3 L593.6,326.7 L594.0,324.7 L594.3,322.2 L594.4,320.9 L594.4,319.6 L594.5,318.1 L594.5,316.6 L594.5,315.0 L594.5,313.3 L594.4,311.5 L594.4,309.7 L594.4,307.8 L594.3,305.9 L594.3,304.0 L594.3,302.0 L594.3,300.0 L594.3,298.5 L594.3,296.9 L594.3,295.3 L594.3,293.6 L594.3,291.9 L594.2,290.1 L594.2,288.3 L594.2,286.5 L594.2,284.7 L594.2,282.9 L594.2,281.1 L594.2,279.4 L594.2,277.7 L594.2,276.0 L594.2,274.4 L594.3,272.9 L594.4,271.4 L594.4,270.1 L594.6,268.0 L594.8,266.1 L595.0,264.3 L595.2,262.7 L595.4,261.1 L595.7,259.6 L596.0,258.2 L596.3,256.7 L596.6,255.3 L597.0,253.9 L597.3,252.5 L597.8,250.6 L598.3,248.8 L598.9,247.0 L599.5,245.2 L600.1,243.5 L600.7,241.8 L601.4,240.3 L602.0,239.0 L602.5,237.9 L603.9,235.9 L605.2,234.6 L606.5,233.7 L607.7,233.0 L609.6,232.2 L611.3,232.3 L613.0,232.5 L614.3,233.7 L614.5,234.5 L614.6,236.0 L614.7,237.9 L614.9,240.0 L615.2,242.1 L615.8,243.8 L616.4,245.5 L617.1,247.3 L617.8,249.0 L618.5,250.6 L619.2,252.1 L620.2,253.9 L621.2,255.5 L622.0,256.9 L622.5,258.5 L622.7,259.7 L622.8,261.2 L622.8,262.8 L622.8,264.5 L622.9,266.4 L623.2,268.2 L623.7,269.9 L624.3,271.5 L624.9,273.2 L625.6,274.9 L626.4,276.6 L627.3,278.3 L628.1,279.9 L629.0,281.5 L630.0,283.1 L631.1,284.8 L632.2,286.4 L633.3,288.0 L634.3,289.4 L635.1,290.5 L635.7,291.4 L637.5,290.2 L636.9,289.3 L636.1,288.1 L635.1,286.7 L634.1,285.2 L633.0,283.6 L631.9,281.9 L630.9,280.3 L630.1,278.9 L629.2,277.3 L628.4,275.6 L627.6,274.0 L626.9,272.4 L626.3,270.8 L625.8,269.2 L625.4,267.8 L625.1,266.1 L625.0,264.5 L625.0,262.8 L625.0,261.2 L624.9,259.5 L624.7,257.9 L624.0,255.9 L623.0,254.3 L622.1,252.9 L621.2,251.1 L620.6,249.7 L619.8,248.1 L619.1,246.4 L618.4,244.7 L617.8,243.1 L617.4,241.5 L617.0,239.7 L616.9,237.8 L616.8,235.9 L616.6,234.1 L616.1,232.3 L614.0,230.5 L611.5,230.1 L609.2,230.1 L606.7,231.0 L605.3,231.9 L603.8,232.9 L602.2,234.5 L600.7,236.7 L600.0,238.0 L599.4,239.5 L598.7,241.0 L598.1,242.7 L597.5,244.5 L596.9,246.3 L596.3,248.2 L595.7,250.1 L595.3,251.9 L594.9,253.4 L594.6,254.9 L594.2,256.3 L593.9,257.7 L593.6,259.2 L593.4,260.7 L593.1,262.4 L592.9,264.1 L592.7,265.9 L592.5,267.8 L592.4,269.9 L592.3,271.3 L592.2,272.8 L592.2,274.4 L592.2,276.0 L592.1,277.7 L592.1,279.4 L592.1,281.1 L592.1,282.9 L592.2,284.7 L592.2,286.5 L592.2,288.4 L592.2,290.1 L592.2,291.9 L592.3,293.6 L592.3,295.3 L592.3,297.0 L592.3,298.5 L592.3,300.0 L592.3,302.0 L592.3,304.0 L592.3,305.9 L592.4,307.9 L592.4,309.7 L592.4,311.5 L592.5,313.3 L592.5,315.0 L592.5,316.6 L592.5,318.1 L592.4,319.5 L592.4,320.8 L592.3,322.0 L592.0,324.4 L591.7,326.2 L591.2,327.5 L590.7,328.6 L590.1,329.5 L588.7,330.5 L586.9,331.0 L585.0,331.1 L583.3,330.8 L581.5,330.2 L580.0,329.0 L579.0,327.8 L578.0,326.2 L577.2,324.5 L576.5,322.7 L576.2,321.0 L576.1,319.0 L576.0,317.0 L575.4,315.0 L574.4,313.3 L573.0,312.0 L571.6,310.9 L570.1,309.6 L569.0,308.7 L567.8,307.7 L566.5,306.7 L565.3,305.6 L563.9,304.5 L562.6,303.3 L561.4,302.2 L560.1,301.1 L558.8,299.9 L557.5,298.7 L556.2,297.4 L555.0,296.1 L554.0,294.7 L553.1,293.3 L552.2,291.8 L551.4,290.1 L550.6,288.4 L549.8,286.7 L549.1,285.1 L548.4,283.5 L547.7,282.2 L546.7,280.1 L545.8,278.4 L544.9,276.9 L543.7,275.7 L541.8,274.6 L539.8,274.2 L538.0,274.1 L535.3,274.4 L532.9,275.6 L531.8,276.9 L531.0,278.3 L530.4,280.2 L529.9,282.5 L529.8,283.8 L529.7,285.3 L529.7,286.9 L529.6,288.6 L529.6,290.3 L529.6,292.2 L529.6,294.0 L529.6,295.7 L529.5,297.4 L529.5,298.9 L529.4,300.2 L529.3,302.4 L529.1,304.4 L529.0,306.2 L528.8,307.7 L528.5,309.0 L528.3,309.9 L527.1,311.6 L525.5,311.8 L524.5,311.5 L523.1,310.8 L521.5,309.7 L519.9,308.3 L519.0,307.3 L518.0,306.1 L517.0,304.7 L516.0,303.2 L514.9,301.5 L513.8,299.7 L513.1,298.4 L512.3,297.0 L511.4,295.6 L510.6,294.0 L509.8,292.4 L508.9,290.8 L508.1,289.2 L507.2,287.5 L506.4,286.0 L505.5,284.4 L504.6,282.7 L503.7,281.1 L502.8,279.4 L502.0,277.7 L501.1,276.1 L500.3,274.6 L499.5,273.3 L498.7,272.1 L497.2,270.1 L495.8,268.8 L494.5,267.9 L493.3,267.2 L491.0,266.3 L488.6,266.7 L486.9,267.9 L485.4,269.7 L484.3,272.3 L483.9,273.8 L483.7,275.4 L483.5,277.1 L483.3,278.9 L483.2,280.9 L483.0,283.0 L482.9,285.2 L482.8,286.7 L482.8,288.4 L482.7,290.1 L482.7,292.0 L482.7,293.9 L482.7,295.8 L482.6,297.7 L482.6,299.5 L482.5,301.2 L482.4,302.8 L482.3,304.1 L482.2,305.1 L481.6,307.2 L480.8,308.2 L479.7,309.0 L478.4,309.7 L477.0,310.0 L475.4,309.8 L474.2,309.4 L472.8,308.6 L471.3,307.5 L469.7,305.8 L468.9,304.9 L468.0,303.7 L467.1,302.4 L466.2,301.0 L465.2,299.5 L464.3,298.0 L463.3,296.4 L462.4,294.7 L461.6,293.4 L460.8,292.0 L460.1,290.5 L459.3,289.0 L458.5,287.4 L457.7,285.8 L457.0,284.3 L456.3,282.7 L455.6,281.2 L454.9,279.8 L454.3,278.2 L453.6,276.5 L453.0,274.9 L452.4,273.3 L451.9,271.7 L451.3,270.1 L450.8,268.7 L450.3,267.3 L449.8,266.0 L449.1,264.0 L448.4,262.1 L447.7,260.5 L447.1,259.1 L446.1,257.8 L443.8,256.3 L441.3,256.5 L439.1,257.8 L437.3,260.0 L436.5,261.6 L436.0,263.3 L435.4,265.7 L435.0,267.0 L434.6,268.4 L434.2,270.0 L433.7,271.7 L433.2,273.5 L432.7,275.5 L432.1,277.6 L431.7,279.0 L431.3,280.5 L430.9,282.2 L430.5,283.9 L430.1,285.7 L429.6,287.5 L429.2,289.3 L428.7,291.0 L428.3,292.6 L427.9,294.1 L427.5,295.3 L427.1,296.4 L426.0,298.9 L425.0,300.3 L424.3,300.7 L423.4,300.4 L421.9,299.1 L420.3,297.3 L419.5,296.2 L418.8,294.9 L418.0,293.5 L417.2,291.9 L416.3,290.2 L415.4,288.6 L414.5,287.2 L413.7,285.8 L412.8,284.3 L411.8,282.9 L410.9,281.4 L410.0,279.9 L409.0,278.5 L408.0,277.0 L406.9,275.6 L405.8,274.2 L404.8,272.8 L403.8,271.4 L402.9,269.8 L402.3,268.5 L401.7,267.1 L401.1,265.5 L400.5,264.0 L400.0,262.3 L399.5,260.7 L398.9,259.1 L398.4,257.6 L397.9,255.8 L397.3,254.1 L396.8,252.3 L396.3,250.6 L395.8,248.8 L395.3,247.2 L394.8,245.5 L394.2,243.7 L393.5,241.9 L392.9,240.1 L392.2,238.4 L391.6,236.8 L391.0,235.4 L390.1,233.5 L389.3,231.8 L388.5,230.4 L387.4,229.1 L385.4,227.9 L383.2,228.0 L381.5,228.5 L379.7,229.2 L377.9,229.9 L376.1,230.7 L374.3,231.4 L372.9,231.7 L371.3,231.4 L370.0,230.3 L369.5,229.3 L368.9,227.9 L368.3,226.2 L367.8,224.5 L367.5,222.8 L367.2,220.9 L367.0,218.9 L366.6,217.1 L365.9,214.8 L365.0,212.8 L363.8,210.9 L361.5,209.2 L358.7,208.6 L356.5,208.8 L354.3,209.6 L352.3,210.8 L350.9,212.0 L349.7,213.3 L348.5,215.0 L347.5,216.8 L346.9,218.3 L346.3,219.8 L345.8,221.5 L345.3,223.2 L344.8,225.1 L344.3,227.0 L344.0,228.5 L343.6,230.1 L343.3,231.7 L343.0,233.4 L342.7,235.2 L342.4,237.0 L342.1,238.9 L341.8,240.8 L341.6,242.3 L341.4,244.0 L341.2,245.7 L341.1,247.4 L340.9,249.2 L340.7,250.9 L340.6,252.6 L340.4,254.3 L340.2,255.8 L340.0,257.2 L339.8,258.5 L339.3,260.8 L338.7,262.6 L338.1,264.1 L337.5,265.5 L336.8,266.8 L335.7,268.8 L334.5,270.4 L333.4,271.4 L332.1,272.0 L330.7,271.8 L329.5,271.2 L327.8,270.0 L326.1,268.9 L324.4,267.8 L322.6,266.8 L320.7,266.2 L318.6,266.2 L316.6,266.6 L314.8,267.6 L313.3,269.1 L312.2,270.9 L311.3,273.2 L310.8,274.6 L310.5,276.2 L310.2,277.9 L309.9,279.6 L309.6,281.5 L309.3,283.3 L309.0,285.0 L308.8,286.8 L308.5,288.8 L308.2,290.7 L308.0,292.5 L307.7,294.3 L307.5,295.8 L307.2,298.1 L307.0,299.9 L306.8,301.7 L306.5,303.5 L306.2,305.2 L305.9,306.9 L305.6,308.6 L305.2,310.4 L304.7,312.1 L304.2,313.8 L303.7,315.6 L303.1,317.3 L302.4,319.0 L301.7,320.6 L300.9,322.1 L300.1,323.7 L299.2,325.1 L298.3,326.5 L297.4,327.8 L296.3,329.2 L295.2,330.4 L294.0,331.5 L292.7,332.5 L291.2,333.5 L289.7,334.5 L288.2,335.3 L286.8,335.9 L285.4,336.4 L284.2,336.6 L282.3,336.7 L280.9,336.7 L279.2,336.7 L277.3,336.6 L275.3,336.5 L273.4,336.5 L271.5,336.4 L269.8,336.4 L267.7,336.4 L265.7,336.4 L263.9,336.5 L262.3,336.5 L260.8,336.7 L259.2,337.4 L258.4,337.9 L257.3,337.9 L256.1,337.6 L255.1,336.8 L253.9,335.7 L252.5,334.4 L250.3,333.6 L248.9,333.5 L247.5,333.5 L245.8,333.4 L243.9,333.4 L241.9,333.4 L239.7,333.4 L237.4,333.4 L235.1,333.4 L232.8,333.4 L230.5,333.5 L228.3,333.5 L226.3,333.5 L224.5,333.5 L222.9,333.5 L221.5,333.5 L220.5,333.5 L219.9,333.5 L220.1,333.6 L219.7,333.4 L218.3,332.9 L216.5,332.1 L214.5,331.2 L212.7,330.5 L211.0,329.7 L209.4,329.0 L207.6,328.3 L205.8,327.5 L204.0,326.7 L202.4,326.1 L200.8,325.4 L199.1,324.8 L197.4,324.1 L195.8,323.4 L194.1,322.7 L192.5,321.9 L190.8,321.0 L189.1,320.2 L187.4,319.3 L185.8,318.4 L184.4,317.5 L182.7,316.5 L181.2,315.4 L179.8,314.3 L178.4,313.2 L177.0,312.0 L175.7,310.9 L174.4,309.8 L173.1,308.6 L171.9,307.5 L170.9,306.5 L169.4,305.1 L168.2,303.9 L166.6,302.4 L165.5,301.5 L164.3,300.5 L163.0,299.4 L161.6,298.3 L160.4,297.2 L159.3,296.2 L157.8,295.0 L156.6,293.9 L155.6,292.8 L154.4,291.5 L153.5,290.2 L152.5,288.8 L151.5,287.3 L150.5,285.7 L149.5,284.1 L148.6,282.5 L147.7,280.8 L146.7,279.0 L145.7,277.3 L144.5,275.8 L142.9,274.3 L141.3,273.1 L139.6,272.2 L137.8,271.3 L135.7,270.7 L133.6,270.4 L131.7,270.1 L130.4,269.7 L129.1,268.9 L128.2,267.8 L127.2,266.6 L126.4,265.2 L125.4,263.4 L123.6,261.9 L121.6,261.4 L119.4,261.3 L117.3,261.6 L115.4,262.2 L113.5,264.1 L112.6,267.1 L112.3,268.5 L112.0,270.2 L111.7,272.0 L111.5,273.9 L111.3,275.6 L111.1,277.2 L110.8,279.2 L110.6,281.0 L110.3,282.8 L110.1,284.8 L109.9,286.4 L109.7,288.2 L109.5,290.0 L109.3,291.9 L109.1,293.8 L108.9,295.9 L108.7,297.5 L108.6,299.4 L108.5,301.2 L108.3,303.2 L108.2,305.0 L108.1,306.8 L107.9,308.4 L107.7,309.7 L107.4,311.8 L107.0,313.4 L106.6,314.5 L106.2,315.2 L104.9,316.2 L103.4,316.4 L102.0,316.1 L100.5,315.1 L99.7,314.1 L98.7,312.6 L97.6,311.1 L96.4,309.5 L95.1,308.0 L93.3,306.8 L90.6,306.5 L88.0,307.2 L86.4,308.2 L85.0,309.5 L83.7,311.1 L82.9,312.7 L82.3,314.4 L81.7,316.3 L81.3,318.4 L81.0,320.0 L80.9,321.6 L80.8,323.4 L80.7,325.1 L80.6,326.8 L80.5,328.3 L80.2,330.2 L79.9,332.1 L79.5,333.9 L79.1,335.5 L78.7,336.5 L77.5,338.1 L75.8,338.8 L74.1,339.0 L72.1,339.0 L70.1,338.8 L68.6,338.3 L67.1,337.6 L65.5,336.8 L63.9,335.9 L62.3,334.7 L60.2,333.8 L58.0,333.6 L55.8,333.7 L53.9,333.6 L52.1,333.2 L50.3,332.7 L48.6,331.9 L47.2,330.8 L45.7,329.3 L44.0,327.9 L42.3,326.8 L40.5,326.0 L38.5,325.7 L36.6,326.2 L34.8,327.3 L33.1,328.6 L31.8,329.8 L30.5,331.1 L29.2,332.4 L28.0,333.4 L26.4,334.3 L24.8,334.9 L23.4,335.1 L22.0,335.0 L20.7,334.5 L19.4,333.8 L17.9,332.6 L16.5,331.2 L15.5,330.1Z" fill="#0b0b0b" fill-rule="nonzero" stroke="#0b0b0b" stroke-width="0.3" stroke-linejoin="round"/><path d="M14.6,330.9 L15.6,332.0 L17.1,333.5 L18.7,334.8 L20.2,335.6 L21.8,336.1 L23.4,336.3 L25.1,336.0 L26.9,335.4 L28.7,334.4 L30.0,333.3 L31.3,332.0 L32.6,330.6 L33.9,329.5 L35.5,328.3 L37.1,327.3 L38.6,326.9 L40.2,327.1 L41.7,327.9 L43.3,328.9 L44.8,330.2 L46.4,331.7 L48.0,333.0 L49.8,333.8 L51.8,334.4 L53.8,334.8 L55.9,334.9 L57.9,334.8 L59.9,335.0 L61.6,335.8 L63.3,336.9 L64.9,337.9 L66.5,338.7 L68.1,339.5 L69.9,340.0 L72.0,340.3 L74.2,340.3 L76.1,340.0 L78.2,339.1 L79.8,337.2 L80.3,335.9 L80.7,334.2 L81.1,332.3 L81.4,330.4 L81.7,328.5 L81.9,326.9 L82.0,325.2 L82.1,323.4 L82.2,321.7 L82.3,320.1 L82.5,318.6 L82.9,316.6 L83.5,314.8 L84.1,313.2 L84.8,311.8 L85.9,310.3 L87.2,309.2 L88.5,308.4 L90.7,307.8 L92.9,308.0 L94.2,308.9 L95.4,310.3 L96.6,311.8 L97.7,313.3 L98.6,314.9 L99.7,316.1 L101.5,317.2 L103.4,317.6 L105.4,317.3 L107.1,316.1 L107.7,315.1 L108.2,313.8 L108.6,312.1 L109.0,309.9 L109.2,308.5 L109.3,306.9 L109.5,305.1 L109.6,303.2 L109.8,301.3 L109.9,299.5 L110.1,297.7 L110.2,296.0 L110.4,294.0 L110.6,292.0 L110.8,290.1 L111.0,288.3 L111.2,286.6 L111.4,285.0 L111.7,282.9 L111.9,281.1 L112.1,279.4 L112.4,277.4 L112.6,275.8 L112.8,274.0 L113.1,272.2 L113.3,270.4 L113.6,268.7 L113.9,267.4 L114.7,264.8 L116.1,263.4 L117.6,263.0 L119.5,262.7 L121.4,262.8 L123.0,263.1 L124.3,264.2 L125.2,265.9 L126.1,267.4 L127.1,268.7 L128.3,269.9 L129.8,270.9 L131.4,271.4 L133.4,271.7 L135.4,272.0 L137.3,272.6 L139.0,273.4 L140.6,274.3 L142.1,275.3 L143.5,276.7 L144.6,278.1 L145.5,279.7 L146.5,281.4 L147.4,283.2 L148.4,284.8 L149.4,286.4 L150.4,288.0 L151.4,289.5 L152.4,291.0 L153.4,292.3 L154.6,293.7 L155.8,294.8 L157.0,295.9 L158.4,297.2 L159.5,298.2 L160.8,299.3 L162.2,300.4 L163.5,301.4 L164.7,302.5 L165.8,303.4 L167.4,304.8 L168.6,306.0 L170.0,307.4 L171.1,308.4 L172.3,309.5 L173.5,310.7 L174.8,311.9 L176.2,313.0 L177.6,314.1 L179.0,315.3 L180.5,316.4 L182.0,317.5 L183.7,318.6 L185.2,319.5 L186.8,320.4 L188.5,321.3 L190.2,322.2 L191.9,323.0 L193.6,323.8 L195.3,324.6 L196.9,325.3 L198.6,325.9 L200.3,326.6 L201.9,327.3 L203.5,327.9 L205.3,328.7 L207.1,329.4 L208.9,330.2 L210.6,330.9 L212.2,331.6 L214.0,332.4 L216.0,333.2 L217.8,334.0 L219.2,334.6 L219.7,334.8 L219.9,334.8 L220.6,334.8 L221.6,334.8 L222.9,334.8 L224.5,334.7 L226.3,334.7 L228.3,334.7 L230.5,334.7 L232.8,334.7 L235.1,334.7 L237.4,334.7 L239.7,334.7 L241.9,334.7 L243.9,334.7 L245.8,334.7 L247.5,334.7 L248.9,334.8 L250.0,334.8 L251.9,335.5 L253.1,336.6 L254.3,337.7 L255.6,338.7 L257.2,339.1 L258.7,339.1 L259.7,338.5 L261.1,337.9 L262.4,337.8 L263.9,337.7 L265.7,337.6 L267.7,337.6 L269.8,337.6 L271.5,337.6 L273.3,337.7 L275.3,337.7 L277.3,337.8 L279.2,337.9 L280.9,337.9 L282.3,337.9 L284.3,337.8 L285.7,337.5 L287.2,337.0 L288.7,336.3 L290.3,335.5 L291.9,334.5 L293.4,333.5 L294.7,332.4 L296.0,331.2 L297.2,330.0 L298.4,328.5 L299.3,327.2 L300.3,325.8 L301.2,324.3 L302.0,322.7 L302.8,321.1 L303.5,319.4 L304.2,317.7 L304.8,315.9 L305.4,314.2 L305.9,312.4 L306.4,310.6 L306.8,308.9 L307.1,307.1 L307.4,305.4 L307.7,303.7 L308.0,301.8 L308.2,300.1 L308.4,298.2 L308.7,296.0 L308.9,294.4 L309.2,292.7 L309.4,290.8 L309.7,288.9 L310.0,287.0 L310.2,285.2 L310.5,283.5 L310.8,281.6 L311.1,279.8 L311.4,278.1 L311.7,276.4 L312.0,274.9 L312.4,273.6 L313.3,271.4 L314.3,269.8 L315.5,268.6 L317.0,267.8 L318.8,267.4 L320.5,267.4 L322.1,267.9 L323.8,268.9 L325.4,269.9 L327.1,271.0 L328.8,272.2 L330.4,273.0 L332.3,273.2 L334.1,272.4 L335.4,271.2 L336.7,269.5 L337.9,267.4 L338.6,266.0 L339.2,264.6 L339.9,263.0 L340.5,261.1 L341.0,258.7 L341.2,257.4 L341.4,256.0 L341.6,254.4 L341.8,252.8 L342.0,251.0 L342.1,249.3 L342.3,247.5 L342.4,245.8 L342.6,244.1 L342.8,242.5 L343.0,241.0 L343.3,239.1 L343.6,237.2 L343.9,235.4 L344.2,233.7 L344.5,232.0 L344.8,230.4 L345.2,228.8 L345.5,227.3 L346.0,225.4 L346.4,223.6 L346.9,221.8 L347.4,220.2 L348.0,218.8 L348.6,217.4 L349.6,215.6 L350.6,214.1 L351.8,212.8 L353.0,211.8 L354.8,210.7 L356.8,210.0 L358.6,209.8 L360.9,210.3 L362.9,211.8 L363.9,213.3 L364.7,215.3 L365.4,217.4 L365.8,219.1 L366.0,221.1 L366.2,223.0 L366.6,224.8 L367.1,226.6 L367.7,228.3 L368.4,229.9 L369.1,231.1 L370.8,232.5 L372.9,232.9 L374.6,232.6 L376.5,231.8 L378.4,231.1 L380.2,230.4 L381.9,229.6 L383.4,229.2 L385.1,229.2 L386.5,230.1 L387.3,231.1 L388.0,232.5 L388.8,234.1 L389.6,236.0 L390.2,237.4 L390.8,239.0 L391.5,240.6 L392.1,242.4 L392.8,244.2 L393.4,246.0 L393.9,247.6 L394.4,249.3 L394.9,251.0 L395.4,252.7 L396.0,254.5 L396.5,256.2 L397.1,258.0 L397.6,259.6 L398.2,261.2 L398.7,262.8 L399.3,264.4 L399.9,266.0 L400.5,267.5 L401.1,269.0 L401.8,270.4 L402.8,272.1 L403.8,273.6 L404.9,274.9 L405.9,276.3 L407.0,277.7 L408.1,279.2 L409.0,280.6 L409.9,282.0 L410.9,283.5 L411.8,284.9 L412.7,286.4 L413.6,287.8 L414.4,289.2 L415.3,290.8 L416.2,292.4 L417.0,294.0 L417.8,295.5 L418.6,296.8 L419.4,298.0 L421.1,300.0 L422.8,301.4 L424.4,301.8 L425.8,301.1 L427.0,299.4 L428.2,296.8 L428.6,295.7 L429.0,294.4 L429.4,292.9 L429.8,291.3 L430.3,289.6 L430.7,287.8 L431.2,286.0 L431.6,284.2 L432.0,282.5 L432.5,280.8 L432.8,279.3 L433.2,277.9 L433.8,275.8 L434.3,273.8 L434.8,272.0 L435.3,270.3 L435.7,268.7 L436.1,267.3 L436.5,266.0 L437.1,263.6 L437.6,262.0 L438.2,260.6 L439.8,258.7 L441.7,257.6 L443.6,257.4 L445.4,258.6 L446.1,259.6 L446.7,260.9 L447.3,262.5 L448.0,264.3 L448.8,266.4 L449.3,267.7 L449.8,269.0 L450.3,270.5 L450.8,272.1 L451.4,273.6 L452.0,275.3 L452.6,276.9 L453.2,278.6 L453.9,280.2 L454.6,281.7 L455.2,283.2 L456.0,284.8 L456.7,286.3 L457.5,287.9 L458.3,289.5 L459.1,291.0 L459.9,292.5 L460.6,293.9 L461.4,295.3 L462.3,296.9 L463.3,298.6 L464.3,300.1 L465.2,301.6 L466.2,303.0 L467.1,304.4 L468.0,305.5 L468.9,306.6 L470.6,308.3 L472.2,309.5 L473.7,310.4 L475.2,310.9 L477.1,311.1 L478.8,310.7 L480.3,309.9 L481.6,309.0 L482.6,307.6 L483.3,305.4 L483.4,304.2 L483.5,302.9 L483.6,301.3 L483.7,299.6 L483.7,297.8 L483.8,295.9 L483.8,293.9 L483.8,292.0 L483.8,290.2 L483.9,288.4 L483.9,286.8 L484.0,285.3 L484.1,283.0 L484.3,280.9 L484.4,279.0 L484.5,277.2 L484.7,275.5 L485.0,274.0 L485.3,272.7 L486.4,270.3 L487.7,268.7 L489.0,267.7 L490.8,267.4 L492.8,268.2 L493.9,268.8 L495.1,269.7 L496.4,270.9 L497.8,272.7 L498.5,273.8 L499.3,275.1 L500.1,276.6 L501.0,278.2 L501.9,279.9 L502.8,281.6 L503.7,283.3 L504.5,284.9 L505.4,286.5 L506.2,288.1 L507.1,289.7 L508.0,291.3 L508.8,292.9 L509.7,294.5 L510.5,296.1 L511.3,297.6 L512.1,299.0 L512.9,300.3 L514.0,302.1 L515.1,303.8 L516.1,305.3 L517.1,306.7 L518.2,308.0 L519.2,309.1 L520.8,310.5 L522.5,311.7 L524.1,312.5 L525.5,312.9 L527.7,312.5 L529.2,310.4 L529.6,309.2 L529.8,307.9 L530.1,306.3 L530.2,304.5 L530.4,302.5 L530.5,300.3 L530.6,298.9 L530.6,297.4 L530.6,295.7 L530.7,294.0 L530.7,292.2 L530.7,290.4 L530.7,288.6 L530.7,286.9 L530.8,285.3 L530.9,283.9 L531.0,282.7 L531.4,280.4 L532.0,278.7 L532.7,277.5 L533.5,276.5 L535.6,275.4 L538.0,275.2 L539.7,275.3 L541.5,275.6 L543.1,276.5 L544.1,277.6 L544.9,278.9 L545.7,280.6 L546.8,282.7 L547.4,284.0 L548.1,285.5 L548.9,287.1 L549.6,288.8 L550.4,290.6 L551.3,292.3 L552.2,293.9 L553.1,295.3 L554.2,296.8 L555.5,298.2 L556.8,299.5 L558.1,300.7 L559.4,301.9 L560.7,303.0 L561.9,304.1 L563.3,305.3 L564.6,306.4 L565.9,307.5 L567.1,308.5 L568.3,309.5 L569.4,310.4 L570.9,311.7 L572.4,312.8 L573.6,314.0 L574.5,315.4 L575.0,317.1 L575.1,319.1 L575.1,321.1 L575.5,323.0 L576.2,324.9 L577.1,326.7 L578.2,328.4 L579.3,329.8 L581.1,331.1 L583.0,331.8 L585.0,332.1 L587.0,332.0 L589.1,331.4 L590.8,330.2 L591.6,329.2 L592.2,327.9 L592.7,326.4 L593.0,324.5 L593.3,322.1 L593.4,320.9 L593.4,319.6 L593.5,318.1 L593.5,316.6 L593.5,315.0 L593.5,313.3 L593.4,311.5 L593.4,309.7 L593.4,307.8 L593.3,305.9 L593.3,304.0 L593.3,302.0 L593.3,300.0 L593.3,298.5 L593.3,296.9 L593.3,295.3 L593.3,293.6 L593.2,291.9 L593.2,290.1 L593.2,288.3 L593.2,286.5 L593.2,284.7 L593.2,282.9 L593.2,281.1 L593.2,279.4 L593.2,277.7 L593.2,276.0 L593.2,274.4 L593.3,272.8 L593.3,271.4 L593.4,270.0 L593.5,267.9 L593.7,266.0 L593.9,264.2 L594.1,262.5 L594.4,260.9 L594.7,259.4 L595.0,257.9 L595.3,256.5 L595.6,255.1 L595.9,253.7 L596.3,252.2 L596.8,250.4 L597.3,248.5 L597.9,246.7 L598.5,244.9 L599.1,243.1 L599.7,241.4 L600.4,239.9 L601.0,238.5 L601.6,237.3 L603.0,235.2 L604.5,233.8 L605.9,232.8 L607.2,232.0 L609.4,231.2 L611.4,231.2 L613.5,231.5 L615.2,233.0 L615.5,234.3 L615.7,236.0 L615.8,237.9 L615.9,239.9 L616.3,241.8 L616.8,243.4 L617.4,245.1 L618.1,246.8 L618.8,248.5 L619.5,250.1 L620.2,251.6 L621.1,253.4 L622.1,254.9 L623.0,256.4 L623.6,258.2 L623.8,259.6 L623.9,261.2 L623.9,262.8 L623.9,264.5 L624.0,266.2 L624.3,268.0 L624.7,269.5 L625.3,271.1 L625.9,272.8 L626.6,274.4 L627.4,276.1 L628.2,277.8 L629.1,279.4 L630.0,280.9 L631.0,282.5 L632.0,284.2 L633.2,285.8 L634.2,287.4 L635.2,288.8 L636.0,289.9 L636.6,290.8" fill="none" stroke="#0b0b0b" stroke-width="1.8" stroke-linejoin="round" stroke-linecap="butt"/>
<g fill="#0b0b0b"><rect x="13.1" y="190.1" width="629.8" height="4"/><rect x="23.35" y="187.2" width="2.8" height="9.7"/><rect x="32.70" y="187.2" width="2.8" height="9.7"/><rect x="43.10" y="187.2" width="2.8" height="9.7"/><rect x="54.70" y="187.2" width="2.8" height="9.7"/><rect x="64.80" y="187.2" width="2.8" height="9.7"/><rect x="75.80" y="187.2" width="2.8" height="9.7"/><rect x="87.50" y="187.2" width="2.8" height="9.7"/><rect x="98.90" y="187.2" width="2.8" height="9.7"/><rect x="108.20" y="187.2" width="2.8" height="9.7"/><rect x="121.90" y="187.2" width="2.8" height="9.7"/><rect x="131.20" y="187.2" width="2.8" height="9.7"/><rect x="143.40" y="187.2" width="2.8" height="9.7"/><rect x="152.90" y="187.2" width="2.8" height="9.7"/><rect x="164.10" y="187.2" width="2.8" height="9.7"/><rect x="175.20" y="187.2" width="2.8" height="9.7"/><rect x="185.90" y="187.2" width="2.8" height="9.7"/><rect x="196.70" y="187.2" width="2.8" height="9.7"/><rect x="207.10" y="187.2" width="2.8" height="9.7"/><rect x="219.30" y="187.2" width="2.8" height="9.7"/><rect x="229.70" y="187.2" width="2.8" height="9.7"/><rect x="240.50" y="187.2" width="2.8" height="9.7"/><rect x="249.80" y="187.2" width="2.8" height="9.7"/><rect x="261.20" y="187.2" width="2.8" height="9.7"/><rect x="272.70" y="187.2" width="2.8" height="9.7"/><rect x="284.30" y="187.2" width="2.8" height="9.7"/><rect x="296.10" y="187.2" width="2.8" height="9.7"/><rect x="308.20" y="187.2" width="2.8" height="9.7"/><rect x="321.10" y="187.2" width="2.8" height="9.7"/><rect x="336.60" y="187.2" width="2.8" height="9.7"/><rect x="349.50" y="187.2" width="2.8" height="9.7"/><rect x="359.50" y="187.2" width="2.8" height="9.7"/><rect x="372.70" y="187.2" width="2.8" height="9.7"/><rect x="382.90" y="187.2" width="2.8" height="9.7"/><rect x="392.90" y="187.2" width="2.8" height="9.7"/><rect x="403.20" y="187.2" width="2.8" height="9.7"/><rect x="415.30" y="187.2" width="2.8" height="9.7"/><rect x="427.50" y="187.2" width="2.8" height="9.7"/><rect x="437.20" y="187.2" width="2.8" height="9.7"/><rect x="448.60" y="187.2" width="2.8" height="9.7"/><rect x="460.30" y="187.2" width="2.8" height="9.7"/><rect x="470.70" y="187.2" width="2.8" height="9.7"/><rect x="481.20" y="187.2" width="2.8" height="9.7"/><rect x="491.60" y="187.2" width="2.8" height="9.7"/><rect x="502.20" y="187.2" width="2.8" height="9.7"/><rect x="512.60" y="187.2" width="2.8" height="9.7"/><rect x="523.40" y="187.2" width="2.8" height="9.7"/><rect x="534.60" y="187.2" width="2.8" height="9.7"/><rect x="546.00" y="187.2" width="2.8" height="9.7"/><rect x="556.70" y="187.2" width="2.8" height="9.7"/><rect x="567.40" y="187.2" width="2.8" height="9.7"/><rect x="576.90" y="187.2" width="2.8" height="9.7"/><rect x="588.30" y="187.2" width="2.8" height="9.7"/><rect x="599.50" y="187.2" width="2.8" height="9.7"/><rect x="610.20" y="187.2" width="2.8" height="9.7"/><rect x="621.00" y="187.2" width="2.8" height="9.7"/><rect x="633.20" y="187.2" width="2.8" height="9.7"/><rect x="11.9" y="352.7" width="578" height="3.3"/><rect x="588" y="353.1" width="55" height="2.6"/><rect x="22.30" y="350" width="2.8" height="9.3"/><rect x="31.80" y="350" width="2.8" height="9.3"/><rect x="41.50" y="350" width="2.8" height="9.3"/><rect x="53.30" y="350" width="2.8" height="9.3"/><rect x="63.90" y="350" width="2.8" height="9.3"/><rect x="75.10" y="350" width="2.8" height="9.3"/><rect x="86.00" y="350" width="2.8" height="9.3"/><rect x="97.50" y="350" width="2.8" height="9.3"/><rect x="106.80" y="350" width="2.8" height="9.3"/><rect x="119.60" y="350" width="2.8" height="9.3"/><rect x="130.20" y="350" width="2.8" height="9.3"/><rect x="141.70" y="350" width="2.8" height="9.3"/><rect x="151.70" y="350" width="2.8" height="9.3"/><rect x="162.90" y="350" width="2.8" height="9.3"/><rect x="174.40" y="350" width="2.8" height="9.3"/><rect x="184.40" y="350" width="2.8" height="9.3"/><rect x="195.20" y="350" width="2.8" height="9.3"/><rect x="207.00" y="350" width="2.8" height="9.3"/><rect x="218.20" y="350" width="2.8" height="9.3"/><rect x="229.20" y="350" width="2.8" height="9.3"/><rect x="240.40" y="350" width="2.8" height="9.3"/><rect x="249.50" y="350" width="2.8" height="9.3"/><rect x="260.10" y="350" width="2.8" height="9.3"/><rect x="271.10" y="350" width="2.8" height="9.3"/><rect x="282.40" y="350" width="2.8" height="9.3"/><rect x="294.10" y="350" width="2.8" height="9.3"/><rect x="304.90" y="350" width="2.8" height="9.3"/><rect x="314.40" y="350" width="2.8" height="9.3"/><rect x="325.10" y="350" width="2.8" height="9.3"/><rect x="336.10" y="350" width="2.8" height="9.3"/><rect x="347.90" y="350" width="2.8" height="9.3"/><rect x="359.10" y="350" width="2.8" height="9.3"/><rect x="372.10" y="350" width="2.8" height="9.3"/><rect x="382.00" y="350" width="2.8" height="9.3"/><rect x="393.10" y="350" width="2.8" height="9.3"/><rect x="404.00" y="350" width="2.8" height="9.3"/><rect x="414.90" y="350" width="2.8" height="9.3"/><rect x="427.00" y="350" width="2.8" height="9.3"/><rect x="437.30" y="350" width="2.8" height="9.3"/><rect x="448.00" y="350" width="2.8" height="9.3"/><rect x="459.70" y="350" width="2.8" height="9.3"/><rect x="469.40" y="350" width="2.8" height="9.3"/><rect x="480.60" y="350" width="2.8" height="9.3"/><rect x="491.20" y="350" width="2.8" height="9.3"/><rect x="501.70" y="350" width="2.8" height="9.3"/><rect x="512.20" y="350" width="2.8" height="9.3"/><rect x="522.60" y="350" width="2.8" height="9.3"/><rect x="534.10" y="350" width="2.8" height="9.3"/><rect x="544.40" y="350" width="2.8" height="9.3"/><rect x="555.60" y="350" width="2.8" height="9.3"/><rect x="565.80" y="350" width="2.8" height="9.3"/><rect x="576.70" y="350" width="2.8" height="9.3"/><rect x="586.8" y="349.8" width="3.7" height="9.7"/></g>
<g fill="#0d0d0d"><rect x="92.55" y="96" width="1.3" height="27.6"/><path d="M93.2,134.4 L89.4,120.60000000000001 L93.2,122.2 L97.0,120.60000000000001 Z"/><rect x="385.55" y="143.5" width="1.3" height="27.4"/><path d="M386.2,181.7 L382.4,167.89999999999998 L386.2,169.49999999999997 L390.0,167.89999999999998 Z"/><rect x="483.15" y="107.3" width="1.3" height="28.3"/><path d="M483.8,146.4 L480.0,132.6 L483.8,134.2 L487.6,132.6 Z"/><rect x="89.15" y="266.7" width="1.3" height="27.0"/><path d="M89.8,304.5 L86.0,290.7 L89.8,292.3 L93.6,290.7 Z"/><rect x="256.65" y="298.3" width="1.3" height="27.3"/><path d="M257.3,336.4 L253.5,322.59999999999997 L257.3,324.2 L261.1,322.59999999999997 Z"/><rect x="406.95" y="238.9" width="1.3" height="27.9"/><path d="M407.6,277.6 L403.8,263.8 L407.6,265.40000000000003 L411.40000000000003,263.8 Z"/></g>
<g fill="#0d0d0d"><rect x="52.5" y="386.7" width="17.1" height="1.4"/><rect x="57.7" y="405.5" width="16.2" height="1.4"/><rect x="74" y="423.5" width="15.6" height="1.4"/><rect x="61" y="442.1" width="16.1" height="1.4"/><rect x="74.6" y="460.3" width="15.6" height="1.4"/></g>
<g font-family="'Liberation Sans', sans-serif" font-size="18.4" fill="#0d0d0d" stroke="#0d0d0d" stroke-width="0.3"><text x="18.16" y="43.4" textLength="11.35" lengthAdjust="spacingAndGlyphs" font-style="italic">А</text><text x="17.08" y="258.1" textLength="13.24" lengthAdjust="spacingAndGlyphs" font-style="italic">Б</text><text x="72.25" y="89.8" textLength="25.83" lengthAdjust="spacingAndGlyphs">НВ</text><text x="379.62" y="137.9" textLength="13.53" lengthAdjust="spacingAndGlyphs">С</text><text x="470.93" y="101.7" textLength="26.85" lengthAdjust="spacingAndGlyphs">ОВ</text><text x="77.15" y="261.1" textLength="25.83" lengthAdjust="spacingAndGlyphs">НВ</text><text x="252.04" y="292.4" textLength="13.30" lengthAdjust="spacingAndGlyphs">С</text><text x="395.03" y="233" textLength="26.75" lengthAdjust="spacingAndGlyphs">ОВ</text><text x="239.73" y="69.6" textLength="112.28" lengthAdjust="spacingAndGlyphs">Испытуемый</text><text x="358.04" y="69.6" textLength="10.59" lengthAdjust="spacingAndGlyphs">с</text><text x="374.40" y="69.6" textLength="68.13" lengthAdjust="spacingAndGlyphs">высокой</text><text x="256.50" y="87.6" textLength="84.80" lengthAdjust="spacingAndGlyphs">степенью</text><text x="348.10" y="87.6" textLength="84.53" lengthAdjust="spacingAndGlyphs">смелости</text><text x="121.72" y="237.6" textLength="112.79" lengthAdjust="spacingAndGlyphs">Испытуемый</text><text x="240.65" y="237.6" textLength="10.37" lengthAdjust="spacingAndGlyphs">с</text><text x="256.57" y="237.6" textLength="61.48" lengthAdjust="spacingAndGlyphs">низкой</text><text x="132.40" y="255.9" textLength="84.39" lengthAdjust="spacingAndGlyphs">степенью</text><text x="223.29" y="255.9" textLength="84.94" lengthAdjust="spacingAndGlyphs">смелости</text><text x="74.39" y="392" textLength="34.51" lengthAdjust="spacingAndGlyphs">КГР</text><text x="78.90" y="410.8" textLength="70.48" lengthAdjust="spacingAndGlyphs">отметка</text><text x="156.52" y="410.8" textLength="75.69" lengthAdjust="spacingAndGlyphs">времени</text><text x="238.00" y="410.8" textLength="11.05" lengthAdjust="spacingAndGlyphs">в</text><text x="255.33" y="410.8" textLength="77.07" lengthAdjust="spacingAndGlyphs">секундах</text><text x="42.15" y="428.8" textLength="25.83" lengthAdjust="spacingAndGlyphs">НВ</text><text x="95.06" y="428.8" textLength="69.13" lengthAdjust="spacingAndGlyphs">момент</text><text x="169.39" y="428.8" textLength="127.39" lengthAdjust="spacingAndGlyphs">неожиданного</text><text x="303.13" y="428.8" textLength="100.50" lengthAdjust="spacingAndGlyphs">«выстрела»</text><text x="42.12" y="447.4" textLength="13.53" lengthAdjust="spacingAndGlyphs">С</text><text x="82.79" y="447.4" textLength="60.63" lengthAdjust="spacingAndGlyphs">сигнал</text><text x="147.67" y="447.4" textLength="11.14" lengthAdjust="spacingAndGlyphs">о</text><text x="163.77" y="447.4" textLength="97.97" lengthAdjust="spacingAndGlyphs">повторном</text><text x="268.34" y="447.4" textLength="98.98" lengthAdjust="spacingAndGlyphs">«выстреле»</text><text x="42.14" y="465.6" textLength="26.43" lengthAdjust="spacingAndGlyphs">ОВ</text><text x="96.90" y="465.6" textLength="103.51" lengthAdjust="spacingAndGlyphs">ожидаемый</text><text x="208.84" y="465.6" textLength="88.68" lengthAdjust="spacingAndGlyphs">«выстрел»</text><text x="4.21" y="184.7" textLength="4.57" lengthAdjust="spacingAndGlyphs">I</text><text x="-0.81" y="215.2" textLength="9.33" lengthAdjust="spacingAndGlyphs">II</text><text x="4.21" y="346.6" textLength="4.57" lengthAdjust="spacingAndGlyphs">I</text><text x="-0.81" y="377.0" textLength="9.33" lengthAdjust="spacingAndGlyphs">II</text><text x="42.61" y="392" textLength="4.57" lengthAdjust="spacingAndGlyphs">I</text><text x="42.57" y="410.8" textLength="9.47" lengthAdjust="spacingAndGlyphs">II</text></g>
</svg>
</body></html>
